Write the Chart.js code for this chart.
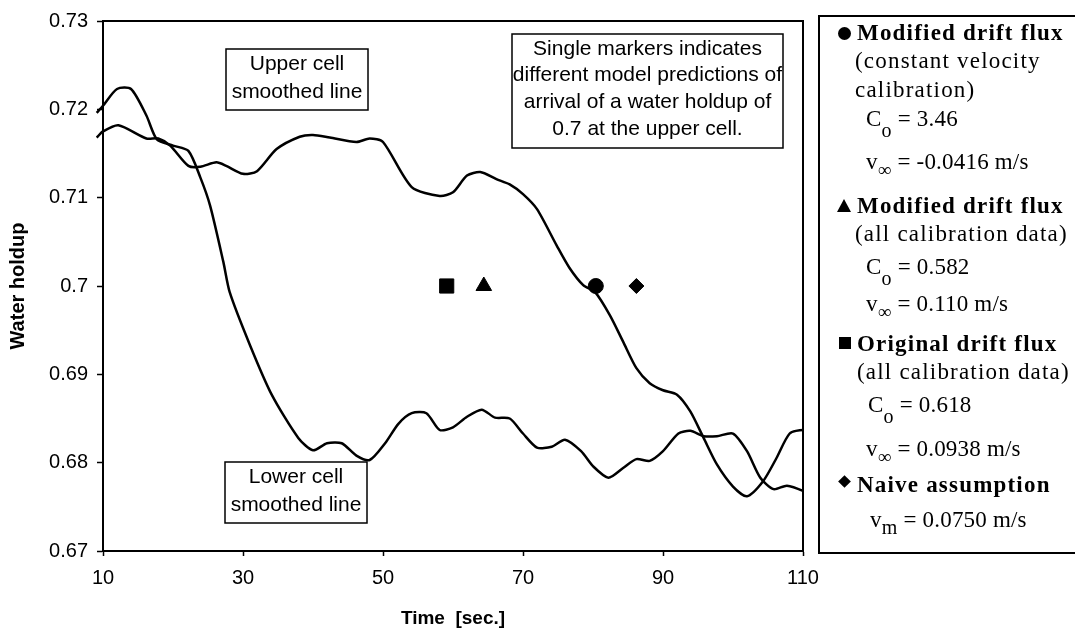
<!DOCTYPE html>
<html>
<head>
<meta charset="utf-8">
<script src="https://cdn.jsdelivr.net/npm/chart.js@4.4.1/dist/chart.umd.min.js"></script>
<style>
  body { margin: 0; background: #fff; }
  #wrap { position: relative; width: 1075px; height: 630px; overflow: hidden; }
  #key {
    position: absolute; left: 818px; top: 15px; width: 270px; height: 539px;
    border: 2px solid #000; box-sizing: border-box; color: #000;
    font-family: "Liberation Serif", "Times New Roman", serif;
    font-size: 23px; letter-spacing: 1.2px;
  }
  #key .ln { position: absolute; white-space: nowrap; line-height: 26px; }
  #key .hd { font-weight: bold; }
  #key .val { letter-spacing: 0.2px; }
  #key sub { font-size: 20px; line-height: 0; vertical-align: -11px; }
  #key sub.inf { font-size: 19px; vertical-align: -7px; }
  #key sub.m { vertical-align: -7px; }
  .mk { position: absolute; background: #000; }
  .dot { left: 18px; top: 10px; width: 13px; height: 13px; border-radius: 50%; }
  .tri { left: 17px; top: 182px; width: 14px; height: 13px; clip-path: polygon(50% 0, 100% 100%, 0 100%); }
  .sq { left: 19px; top: 320px; width: 12px; height: 12px; }
  .dia { left: 20px; top: 460px; width: 9px; height: 9px; transform: rotate(45deg); }
</style>
</head>
<body>
<div id="wrap">
  <canvas id="holdup" width="1075" height="630"></canvas>
  <div id="key">
    <span class="mk dot"></span>
    <div class="ln hd" style="left:37px; top:3px">Modified drift flux</div>
    <div class="ln" style="left:35px; top:31px">(constant velocity</div>
    <div class="ln" style="left:35px; top:60px">calibration)</div>
    <div class="ln val" style="left:46px; top:89px">C<sub>o</sub> = 3.46</div>
    <div class="ln val" style="left:46px; top:132px">v<sub class="inf">∞</sub> = -0.0416 m/s</div>

    <span class="mk tri"></span>
    <div class="ln hd" style="left:37px; top:176px">Modified drift flux</div>
    <div class="ln" style="left:35px; top:204px">(all calibration data)</div>
    <div class="ln val" style="left:46px; top:237px">C<sub>o</sub> = 0.582</div>
    <div class="ln val" style="left:46px; top:274px">v<sub class="inf">∞</sub> = 0.110 m/s</div>

    <span class="mk sq"></span>
    <div class="ln hd" style="left:37px; top:314px">Original drift flux</div>
    <div class="ln" style="left:37px; top:342px">(all calibration data)</div>
    <div class="ln val" style="left:48px; top:375px">C<sub>o</sub> = 0.618</div>
    <div class="ln val" style="left:46px; top:419px">v<sub class="inf">∞</sub> = 0.0938 m/s</div>

    <span class="mk dia"></span>
    <div class="ln hd" style="left:37px; top:455px">Naive assumption</div>
    <div class="ln val" style="left:50px; top:490px">v<sub class="m">m</sub> = 0.0750 m/s</div>
  </div>
</div>
<script>
// smoothed water holdup, upper cell
const upperTime = [9.1, 10, 12.2, 16.2, 17.9, 19.6, 22.2, 23.9, 26.2, 27.6, 30, 32, 34.8, 38.1, 40, 42.4,
  46.2, 48.1, 50, 54.1, 58.1, 60, 62, 63.9, 66.2, 68.1, 70, 72, 74.8, 76.6, 78.6, 80.3, 82.4, 84.3,
  86.2, 88.1, 90, 92, 93.9, 95.8, 97.7, 100, 102, 104.3, 106.2, 108.1, 110, 111];
const upperHoldup = [0.7168, 0.7175, 0.7182, 0.7167, 0.7167, 0.7159, 0.7136, 0.7135, 0.7140, 0.7136,
  0.7127, 0.7130, 0.7155, 0.7169, 0.7171, 0.7168, 0.7163, 0.7167, 0.7163, 0.7112, 0.7102, 0.7106,
  0.7125, 0.7129, 0.7121, 0.7115, 0.7104, 0.7087, 0.7046, 0.7021, 0.7001, 0.6993, 0.6967, 0.6937,
  0.6907, 0.6890, 0.6882, 0.6877, 0.6858, 0.6828, 0.6798, 0.6773, 0.6762, 0.6779, 0.6805, 0.6833,
  0.6837, 0.6833];

// smoothed water holdup, lower cell
const lowerTime = [9.1, 10, 12, 14, 16.2, 17.7, 20, 22.2, 23.9, 25.3, 27.2, 28.1, 31, 34.1, 37.9, 40, 42,
  44.1, 46.2, 48.1, 50.3, 52.2, 54.1, 56.2, 58.1, 60, 62, 64.1, 66, 68.1, 70, 72, 74.1, 76, 78.3, 80,
  82.2, 84.3, 86.2, 88.1, 90, 92.2, 93.9, 95.8, 97.7, 100, 102, 103.9, 105.8, 107.7, 110, 111];
const lowerHoldup = [0.7196, 0.7204, 0.7223, 0.7223, 0.7193, 0.7166, 0.7159, 0.7153, 0.7123, 0.7091,
  0.7027, 0.6993, 0.6933, 0.6877, 0.6828, 0.6814, 0.6822, 0.6822, 0.6808, 0.6803, 0.6822, 0.6844,
  0.6856, 0.6856, 0.6837, 0.6840, 0.6852, 0.6860, 0.6851, 0.6850, 0.6833, 0.6817, 0.6818, 0.6826,
  0.6813, 0.6796, 0.6783, 0.6794, 0.6804, 0.6802, 0.6813, 0.6833, 0.6836, 0.6830, 0.6830, 0.6833,
  0.6813, 0.6783, 0.6770, 0.6774, 0.6768, 0.6762];

// predicted arrival of holdup 0.7 at the upper cell
const markerTime = [59.1, 64.4, 80.4, 86.2];
const markerHoldup = [0.70, 0.70, 0.70, 0.70];
const markerStyle = ['rect', 'triangle', 'circle', 'rectRot'];
const markerSize = [10, 9, 7.5, 7.5];

const xTicks = [10, 30, 50, 70, 90, 110];
const yTicks = [0.67, 0.68, 0.69, 0.70, 0.71, 0.72, 0.73];

const pts = (xs, ys) => xs.map((x, i) => ({ x: x, y: ys[i] }));

const notes = [
  { left: 226, top: 49, width: 142, height: 61, first: 15, gap: 28, lines: ['Upper cell', 'smoothed line'] },
  { left: 512, top: 34, width: 271, height: 114, first: 15, gap: 26.7,
    lines: ['Single markers indicates', 'different model predictions of', 'arrival of a water holdup of', '0.7 at the upper cell.'] },
  { left: 225, top: 462, width: 142, height: 61, first: 15, gap: 28, lines: ['Lower cell', 'smoothed line'] }
];

const frame = {
  id: 'frame',
  afterDraw(chart) {
    const { ctx, chartArea: a } = chart;
    ctx.save();
    ctx.strokeStyle = '#000';
    ctx.lineWidth = 2;
    ctx.strokeRect(a.left, a.top, a.right - a.left, a.bottom - a.top);
    ctx.font = '21px "Liberation Sans", Arial, sans-serif';
    ctx.textAlign = 'center';
    ctx.textBaseline = 'middle';
    notes.forEach(n => {
      ctx.fillStyle = '#fff';
      ctx.fillRect(n.left, n.top, n.width, n.height);
      ctx.lineWidth = 1.5;
      ctx.strokeRect(n.left, n.top, n.width, n.height);
      ctx.fillStyle = '#000';
      n.lines.forEach((t, i) => ctx.fillText(t, n.left + n.width / 2, n.top + n.first + i * n.gap));
    });
    ctx.restore();
  }
};

Chart.defaults.font.family = '"Liberation Sans", Arial, sans-serif';
Chart.defaults.font.size = 20;
Chart.defaults.color = '#000';

new Chart(document.getElementById('holdup'), {
  type: 'line',
  data: {
    datasets: [
      { label: 'Upper cell', data: pts(upperTime, upperHoldup), borderColor: '#000', borderWidth: 2.5,
        pointRadius: 0, tension: 0.25, clip: 8 },
      { label: 'Lower cell', data: pts(lowerTime, lowerHoldup), borderColor: '#000', borderWidth: 2.5,
        pointRadius: 0, tension: 0.25, clip: 8 },
      { label: 'Predictions', data: pts(markerTime, markerHoldup), showLine: false,
        pointStyle: markerStyle, pointRadius: markerSize, backgroundColor: '#000', borderColor: '#000',
        borderWidth: 1 }
    ]
  },
  options: {
    responsive: false,
    animation: false,
    layout: { padding: { top: 20, right: 272, left: 0, bottom: 0 } },
    plugins: { legend: { display: false }, tooltip: { enabled: false } },
    scales: {
      x: {
        type: 'linear', min: 10, max: 110,
        afterBuildTicks: s => { s.ticks = xTicks.map(v => ({ value: v })); },
        afterFit: s => { s.height = 79; },
        ticks: { padding: 10, callback: v => String(v), maxRotation: 0 },
        grid: { drawOnChartArea: false, tickLength: 5, tickColor: '#000', tickWidth: 1.5 },
        border: { color: '#000', width: 2 },
        title: { display: true, text: 'Time  [sec.]', font: { size: 19, weight: 'bold' }, padding: { top: 0, bottom: 0 } }
      },
      y: {
        min: 0.67, max: 0.73,
        afterBuildTicks: s => { s.ticks = yTicks.map(v => ({ value: v })); },
        afterFit: s => { s.width = 103; },
        ticks: { padding: 9, callback: v => String(Number(v.toFixed(2))) },
        grid: { drawOnChartArea: false, tickLength: 6, tickColor: '#000', tickWidth: 1.5 },
        border: { color: '#000', width: 2 },
        title: { display: true, text: 'Water holdup', font: { size: 20, weight: 'bold' }, padding: { top: 6, bottom: 0 } }
      }
    }
  },
  plugins: [frame]
});
</script>
</body>
</html>
